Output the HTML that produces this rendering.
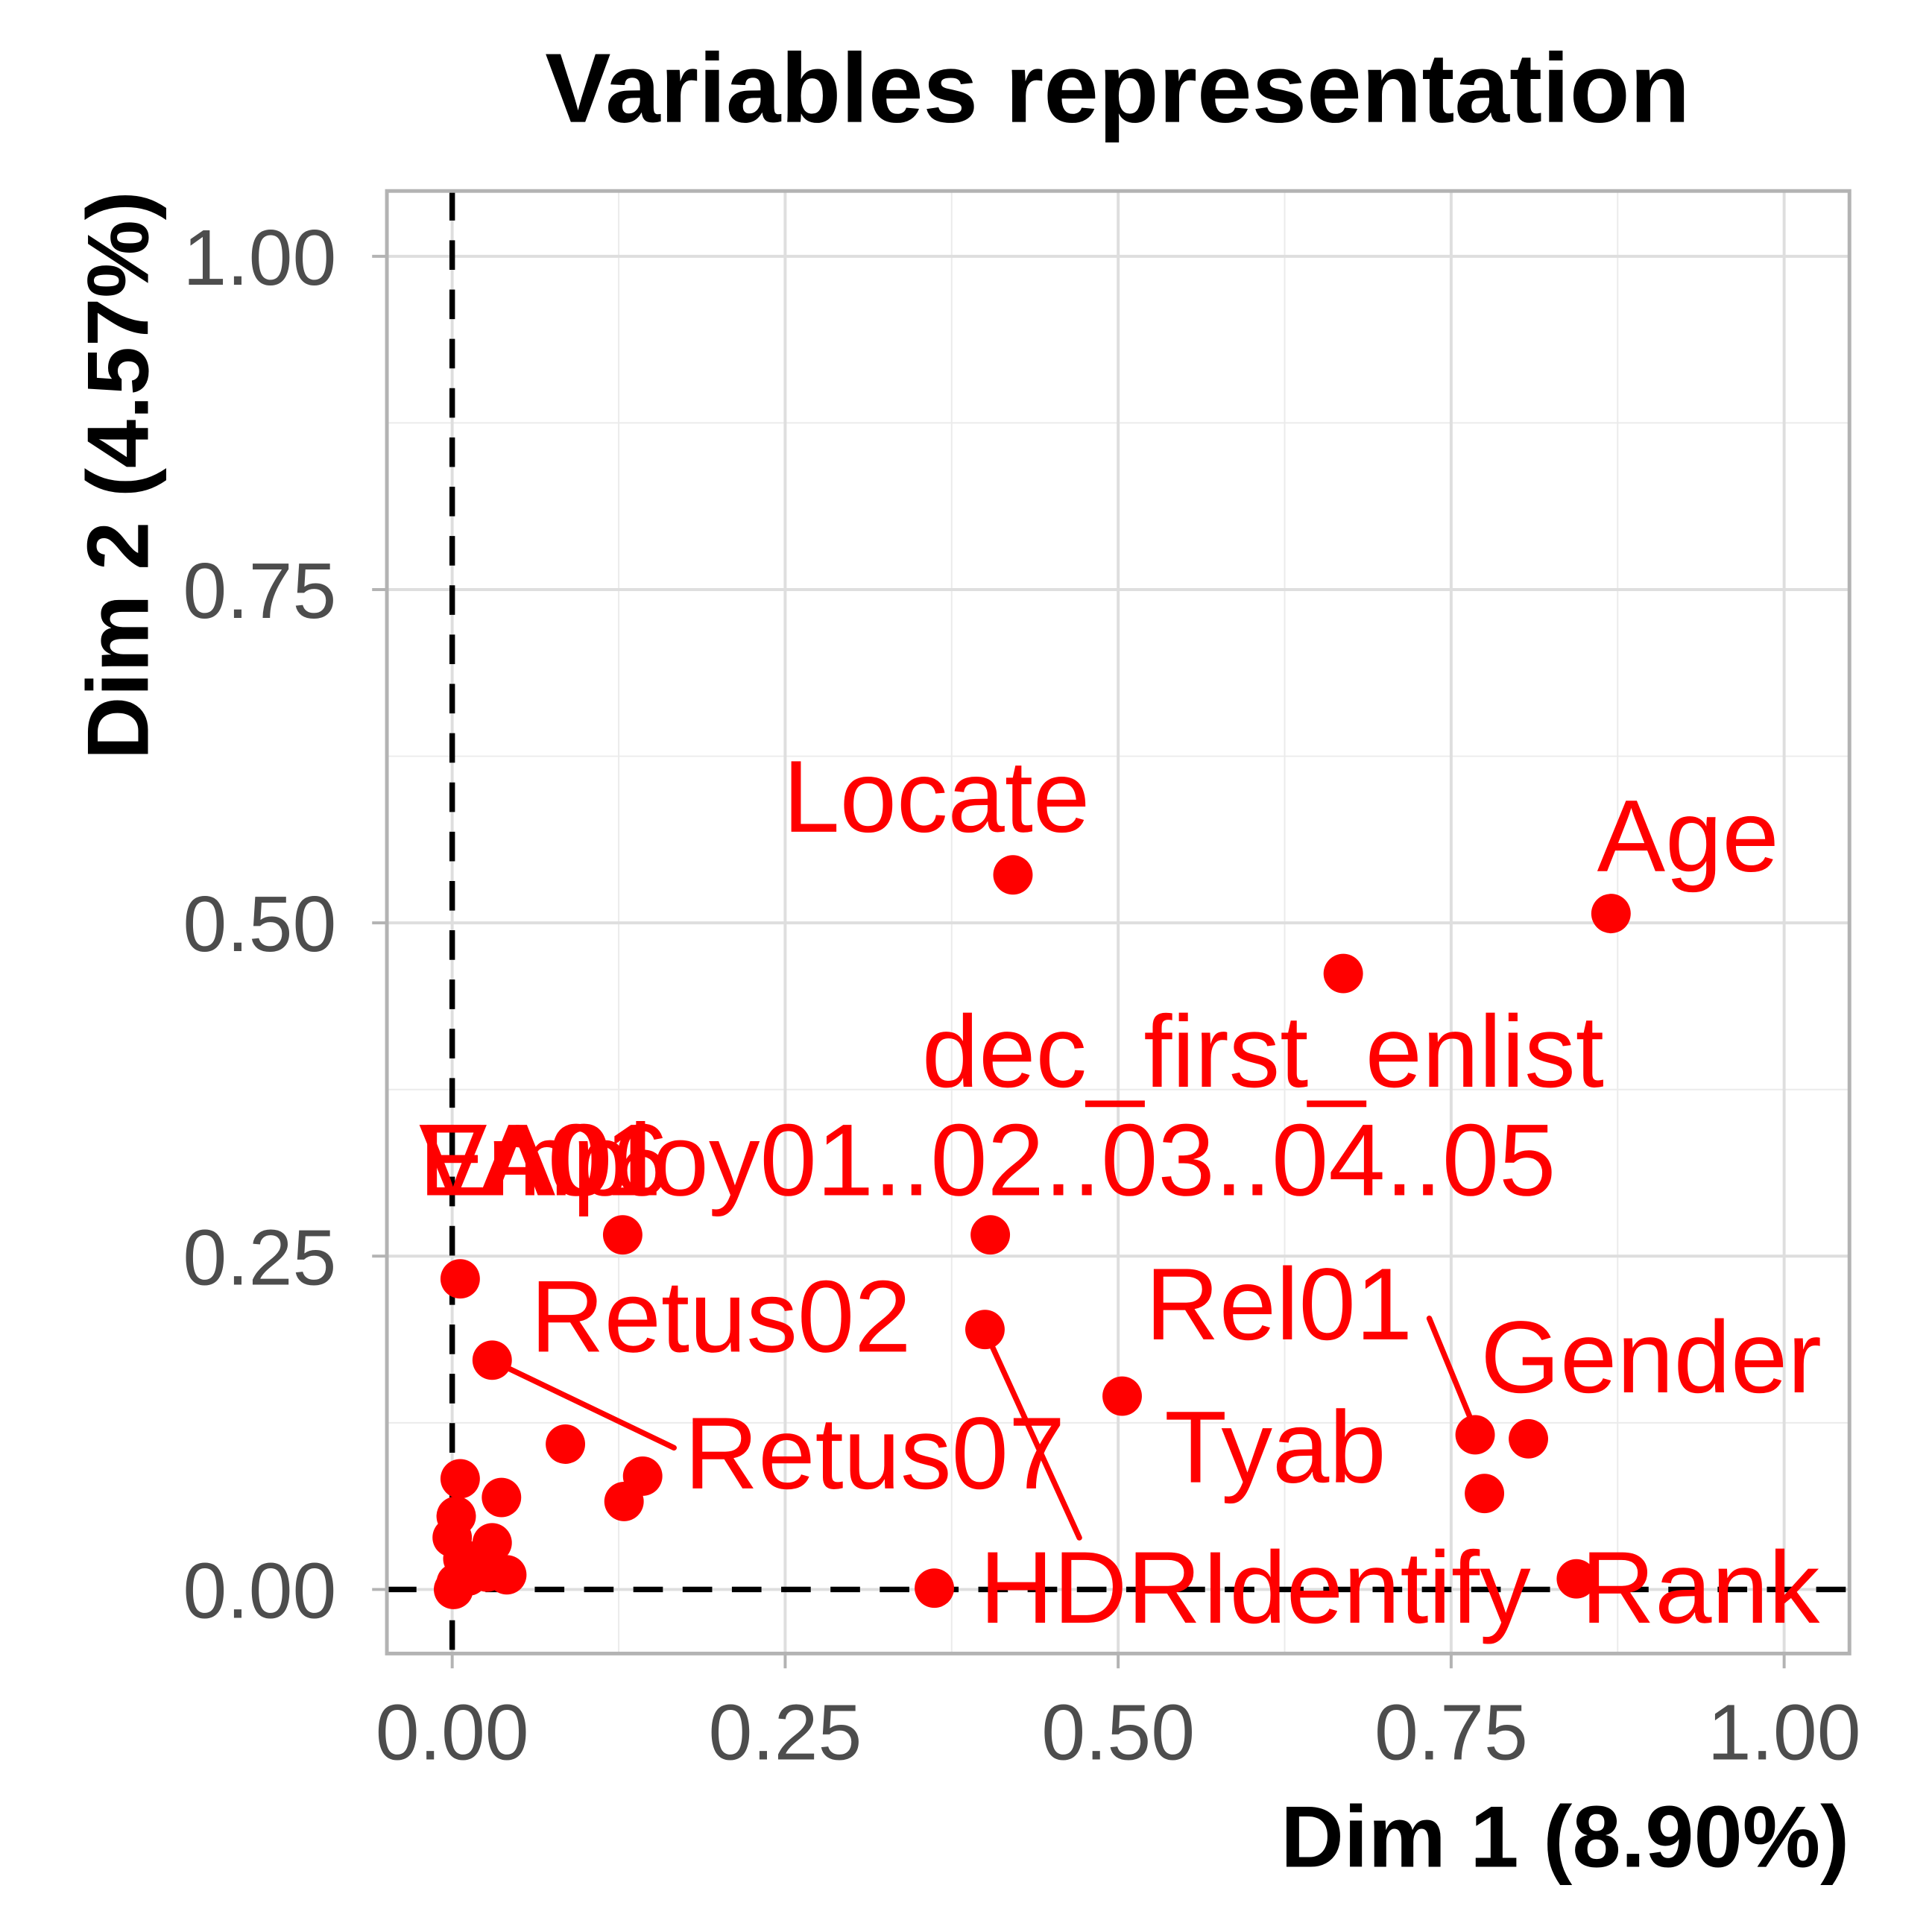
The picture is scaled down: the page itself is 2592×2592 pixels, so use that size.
<!DOCTYPE html>
<html><head><meta charset="utf-8"><style>html,body{margin:0;padding:0;background:#fff}svg{display:block}</style></head>
<body>
<svg id="chart" width="2592" height="2592" viewBox="0 0 1568 1568" xmlns="http://www.w3.org/2000/svg" font-family="Liberation Sans, Arial, sans-serif"></svg>
<script>
const xTicks=[0,0.25,0.5,0.75,1];
const yTicks=[0,0.25,0.5,0.75,1];
const xTickLabels=["0.00","0.25","0.50","0.75","1.00"];
const yTickLabels=["0.00","0.25","0.50","0.75","1.00"];
const pointX=[0.421,0.870,0.669,0.404,0.128,0.006,0.030,0.400,0.503,0.768,0.808,0.775,0.844,0.362,0.085,0.143,0.129,0.037,0.006,0.003,0.000,0.030,0.041,0.026,0.008,0.003,0.001,0.012];
const pointY=[0.536,0.507,0.462,0.266,0.266,0.233,0.172,0.195,0.145,0.116,0.113,0.072,0.008,0.001,0.109,0.085,0.066,0.069,0.083,0.055,0.039,0.035,0.011,0.013,0.023,0.005,0.000,0.010];
const labelText=["Locate","Age","dec_first_enlist","Employ01..02..03..04..05","EA06","VA01","Retus02","Retus07","HDRIdentify","Rel01","Gender","Tyab","Rank"];

const NS="http://www.w3.org/2000/svg";
const svg=document.getElementById('chart');
const PL=314,PR=1501,PT=155,PB=1342;
const sx=v=>367+v*1081;
const sy=v=>1290-v*1082;
function mk(t,a,p){const e=document.createElementNS(NS,t);for(const k in a)e.setAttribute(k,a[k]);(p||svg).appendChild(e);return e;}

for(let i=0;i<4;i++){const m=0.125+0.25*i;
 let g=mk('line',{x1:sx(m),x2:sx(m),y1:PT,y2:PB,stroke:'#ebebeb','stroke-width':1.2});
 
 
 g=mk('line',{x1:PL,x2:PR,y1:sy(m),y2:sy(m),stroke:'#ebebeb','stroke-width':1.2});
 
 
}
xTicks.forEach((v,i)=>{
 let g=mk('line',{x1:sx(v),x2:sx(v),y1:PT,y2:PB,stroke:'#dedede','stroke-width':2.4});
 
 
 let t=mk('line',{x1:sx(v),x2:sx(v),y1:PB,y2:PB+12,stroke:'#b3b3b3','stroke-width':2.4});
 
 
 let l=mk('text',{x:sx(v),y:1428,'text-anchor':'middle','font-size':64,fill:'#4d4d4d'});l.textContent=xTickLabels[i];
 
 
});
yTicks.forEach((v,i)=>{
 let g=mk('line',{x1:PL,x2:PR,y1:sy(v),y2:sy(v),stroke:'#dedede','stroke-width':2.4});
 
 
 let t=mk('line',{x1:PL-12,x2:PL,y1:sy(v),y2:sy(v),stroke:'#b3b3b3','stroke-width':2.4});
 
 
 let l=mk('text',{x:273,y:sy(v)+23,'text-anchor':'end','font-size':64,fill:'#4d4d4d'});l.textContent=yTickLabels[i];
 
 
});
let z=mk('line',{x1:PL,x2:PR,y1:sy(0),y2:sy(0),stroke:'#000','stroke-width':4.5,'stroke-dasharray':'24 16'});


z=mk('line',{x1:sx(0),x2:sx(0),y1:PT,y2:PB,stroke:'#000','stroke-width':4.5,'stroke-dasharray':'24 16'});


const segs=[[399,1104,547,1175],[799,1079,876,1248],[1160,1070,1195,1155]];
segs.forEach(s=>{const e=mk('line',{x1:s[0],y1:s[1],x2:s[2],y2:s[3],stroke:'#ff0000','stroke-width':4.5,'stroke-linecap':'round'});
 
 });
pointX.forEach((v,i)=>{const c=mk('circle',{cx:sx(v),cy:sy(pointY[i]),r:16,fill:'#ff0000'});
 
 });
const lp=[[760,675,'middle'],[1370,707,'middle'],[1025,882,'middle'],[340,970,'start'],[340,970,'start'],[340,970,'start'],[585,1097,'middle'],[710,1208,'middle'],[795,1317,'start'],[1038,1087,'middle'],[1340,1130,'middle'],[1035,1203,'middle'],[1380,1317,'middle']];
labelText.forEach((s,i)=>{const t=mk('text',{x:lp[i][0],y:lp[i][1],'text-anchor':lp[i][2],'font-size':83,fill:'#ff0000'});t.textContent=s;
 
 });
let b=mk('rect',{x:PL,y:PT,width:PR-PL,height:PB-PT,fill:'none',stroke:'#b3b3b3','stroke-width':3});


let tt=mk('text',{x:907,y:99,'text-anchor':'middle','font-size':80,'font-weight':'bold',fill:'#000'});tt.textContent='Variables representation';


tt=mk('text',{x:1501,y:1515,'text-anchor':'end','font-size':71,'font-weight':'bold',fill:'#000'});tt.textContent='Dim 1 (8.90%)';


tt=mk('text',{x:0,y:0,'text-anchor':'end','font-size':71,'font-weight':'bold',fill:'#000',transform:'translate(120,155) rotate(-90)'});tt.textContent='Dim 2 (4.57%)';


</script>
</body></html>
